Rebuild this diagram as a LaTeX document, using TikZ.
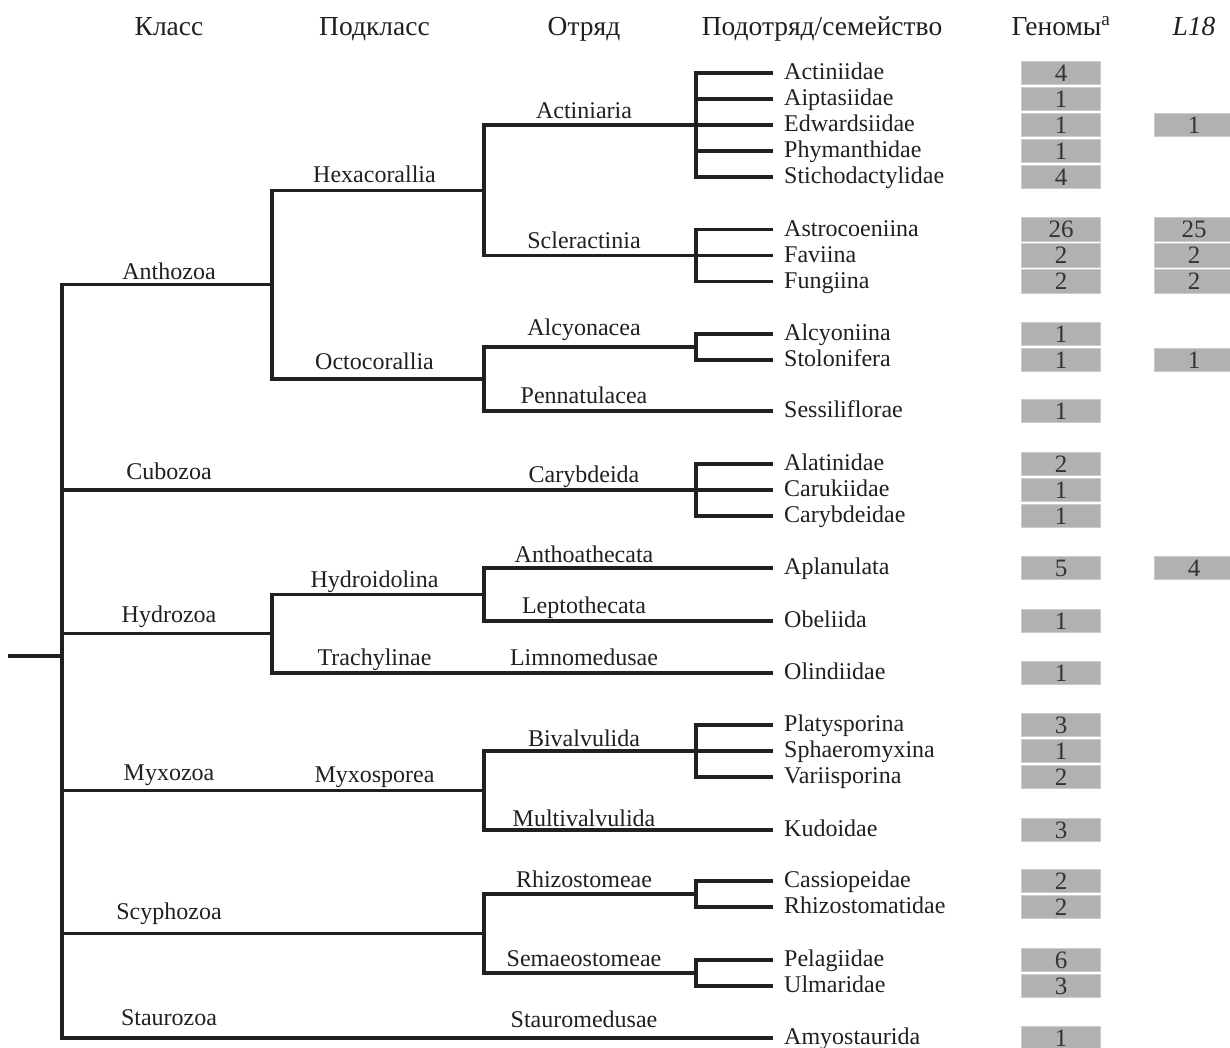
\documentclass[tikz,border=0pt]{standalone}
\usepackage{fontspec}
\setmainfont{Liberation Serif}
\definecolor{ink}{HTML}{231F20}
\definecolor{boxgray}{HTML}{B0B1B3}
\definecolor{boxedge}{HTML}{CBCCCE}
\definecolor{numink}{HTML}{333333}
\tikzset{
  br/.style={draw=ink, line width=3.2pt},
  lbl/.style={anchor=base, inner sep=0pt, text=ink, font=\fontsize{24}{28}\selectfont},
  fam/.style={anchor=base west, inner sep=0pt, text=ink, font=\fontsize{24}{28}\selectfont},
  hdr/.style={anchor=base, inner sep=0pt, text=ink, font=\fontsize{27.5}{30}\selectfont},
  gbox/.style={fill=boxgray, draw=boxedge, line width=0.8pt, minimum width=79pt,
    minimum height=23.5pt, inner sep=0pt, text=numink, font=\fontsize{25}{28}\selectfont},
}
\newcommand{\famrow}[4]{%
  \coordinate (#1) at (773,#2);
  \node[fam] (#1-t) at (784,#2+6.5) {#3};
  \node[gbox] (#1-g) at (1061,#2) {#4};
}
\begin{document}
\begin{tikzpicture}[x=1pt,y=-1pt]
\useasboundingbox (0,0) rectangle (1230,1047);
\clip (0,0) rectangle (1230,1047);
\fill[white] (0,0) rectangle (1230,1047);

% headers
\node[hdr] (h1) at (169,35) {Класс};
\node[hdr] (h2) at (374.5,35) {Подкласс};
\node[hdr] (h3) at (584,35) {Отряд};
\node[hdr] (h4) at (822,35) {Подотряд/семейство};
\node[hdr] (h5) at (1061,35) {Геномы\textsuperscript{a}};
\node[hdr] (h6) at (1194,35) {\textit{L18}};

% leaves
\famrow{actiniidae}{73}{Actiniidae}{4}
\famrow{aiptasiidae}{99}{Aiptasiidae}{1}
\famrow{edwardsiidae}{125}{Edwardsiidae}{1}
\famrow{phymanthidae}{151}{Phymanthidae}{1}
\famrow{stichodactylidae}{177}{Stichodactylidae}{4}
\famrow{astrocoeniina}{229.5}{Astrocoeniina}{26}
\famrow{faviina}{255.5}{Faviina}{2}
\famrow{fungiina}{281.5}{Fungiina}{2}
\famrow{alcyoniina}{334}{Alcyoniina}{1}
\famrow{stolonifera}{360}{Stolonifera}{1}
\famrow{sessiliflorae}{411}{Sessiliflorae}{1}
\famrow{alatinidae}{464}{Alatinidae}{2}
\famrow{carukiidae}{490}{Carukiidae}{1}
\famrow{carybdeidae}{516}{Carybdeidae}{1}
\famrow{aplanulata}{568}{Aplanulata}{5}
\famrow{obeliida}{621}{Obeliida}{1}
\famrow{olindiidae}{673}{Olindiidae}{1}
\famrow{platysporina}{725}{Platysporina}{3}
\famrow{sphaeromyxina}{751}{Sphaeromyxina}{1}
\famrow{variisporina}{777}{Variisporina}{2}
\famrow{kudoidae}{830}{Kudoidae}{3}
\famrow{cassiopeidae}{881}{Cassiopeidae}{2}
\famrow{rhizostomatidae}{907}{Rhizostomatidae}{2}
\famrow{pelagiidae}{960}{Pelagiidae}{6}
\famrow{ulmaridae}{986}{Ulmaridae}{3}
\famrow{amyostaurida}{1038}{Amyostaurida}{1}

% L18 boxes
\node[gbox] (edw-l) at (1194,125) {1};
\node[gbox] (ast-l) at (1194,229.5) {25};
\node[gbox] (fav-l) at (1194,255.5) {2};
\node[gbox] (fun-l) at (1194,281.5) {2};
\node[gbox] (sto-l) at (1194,360) {1};
\node[gbox] (apl-l) at (1194,568) {4};

% internal junctions
\coordinate (r0) at (8,656);
\coordinate (r) at (62,656);
\coordinate (anth) at (272,284.6);
\coordinate (hexa) at (484,190.25);
\coordinate (actin) at (696,125);
\coordinate (scler) at (696,255.5);
\coordinate (octo) at (484,379);
\coordinate (alcyo) at (696,347);
\coordinate (cubo) at (696,490);
\coordinate (hydro) at (272,633.75);
\coordinate (hydroid) at (484,594.5);
\coordinate (myxo) at (484,790.5);
\coordinate (bival) at (696,751);
\coordinate (scyph) at (484,933.5);
\coordinate (rhizo) at (696,894);
\coordinate (semae) at (696,973);

% branches
\draw[br] (r0) -- (r);
\draw[br] (r) |- (anth);
\draw[br] (r) |- (cubo);
\draw[br] (r) |- (hydro);
\draw[br] (r) |- (myxo);
\draw[br] (r) |- (scyph);
\draw[br] (r) |- (amyostaurida);

\draw[br] (anth) |- (hexa);
\draw[br] (anth) |- (octo);
\draw[br] (hexa) |- (actin);
\draw[br] (hexa) |- (scler);
\foreach \l in {actiniidae,aiptasiidae,edwardsiidae,phymanthidae,stichodactylidae}
  \draw[br] (actin) |- (\l);
\foreach \l in {astrocoeniina,faviina,fungiina}
  \draw[br] (scler) |- (\l);
\draw[br] (octo) |- (alcyo);
\draw[br] (octo) |- (sessiliflorae);
\foreach \l in {alcyoniina,stolonifera}
  \draw[br] (alcyo) |- (\l);
\foreach \l in {alatinidae,carukiidae,carybdeidae}
  \draw[br] (cubo) |- (\l);
\draw[br] (hydro) |- (hydroid);
\draw[br] (hydro) |- (olindiidae);
\draw[br] (hydroid) |- (aplanulata);
\draw[br] (hydroid) |- (obeliida);
\draw[br] (myxo) |- (bival);
\draw[br] (myxo) |- (kudoidae);
\foreach \l in {platysporina,sphaeromyxina,variisporina}
  \draw[br] (bival) |- (\l);
\draw[br] (scyph) |- (rhizo);
\draw[br] (scyph) |- (semae);
\foreach \l in {cassiopeidae,rhizostomatidae}
  \draw[br] (rhizo) |- (\l);
\foreach \l in {pelagiidae,ulmaridae}
  \draw[br] (semae) |- (\l);

% branch labels
\node[lbl] (t-anthozoa) at (169,279) {Anthozoa};
\node[lbl] (t-hexa) at (374.5,182) {Hexacorallia};
\node[lbl] (t-actin) at (584,118) {Actiniaria};
\node[lbl] (t-scler) at (584,248) {Scleractinia};
\node[lbl] (t-alcyo) at (584,335) {Alcyonacea};
\node[lbl] (t-octo) at (374.5,369) {Octocorallia};
\node[lbl] (t-penna) at (584,403) {Pennatulacea};
\node[lbl] (t-cubo) at (169,479) {Cubozoa};
\node[lbl] (t-caryb) at (584,482) {Carybdeida};
\node[lbl] (t-antho) at (584,562) {Anthoathecata};
\node[lbl] (t-hydroid) at (374.5,587) {Hydroidolina};
\node[lbl] (t-hydro) at (169,622) {Hydrozoa};
\node[lbl] (t-lepto) at (584,613) {Leptothecata};
\node[lbl] (t-trachy) at (374.5,665) {Trachylinae};
\node[lbl] (t-limno) at (584,665) {Limnomedusae};
\node[lbl] (t-bival) at (584,746) {Bivalvulida};
\node[lbl] (t-myxo) at (169,780) {Myxozoa};
\node[lbl] (t-myxosp) at (374.5,782) {Myxosporea};
\node[lbl] (t-multi) at (584,826) {Multivalvulida};
\node[lbl] (t-rhizo) at (584,887) {Rhizostomeae};
\node[lbl] (t-scyph) at (169,919) {Scyphozoa};
\node[lbl] (t-semae) at (584,966) {Semaeostomeae};
\node[lbl] (t-stauro) at (169,1025) {Staurozoa};
\node[lbl] (t-staurom) at (584,1027) {Stauromedusae};
\end{tikzpicture}
\end{document}
